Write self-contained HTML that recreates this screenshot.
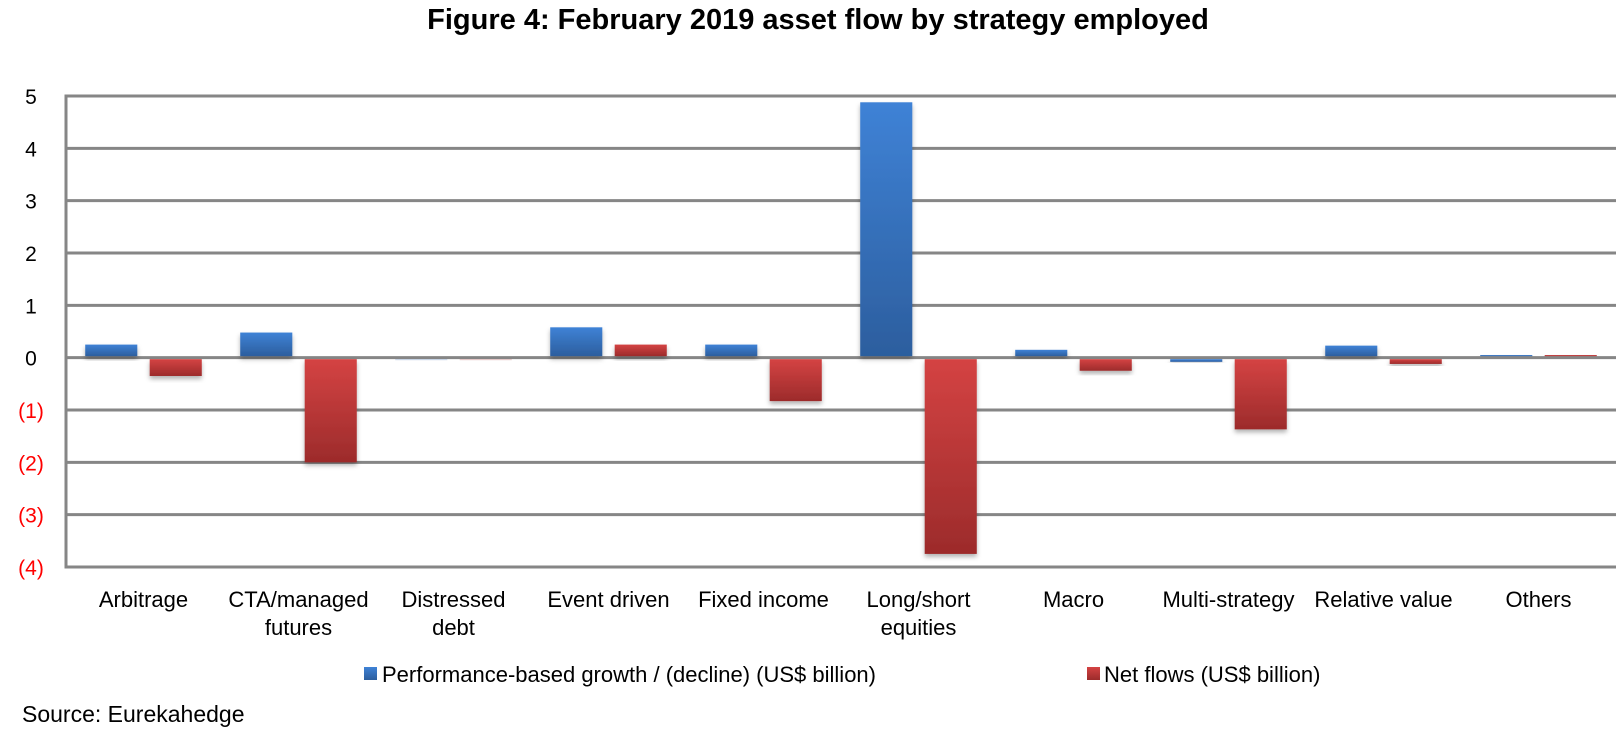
<!DOCTYPE html>
<html><head><meta charset="utf-8"><style>
body{margin:0;background:#fff;width:1618px;height:737px;overflow:hidden;font-family:"Liberation Sans",sans-serif}
</style></head><body>
<svg width="1618" height="737" xmlns="http://www.w3.org/2000/svg">
<defs>
<linearGradient id="gb" x1="0" y1="0" x2="0" y2="1"><stop offset="0" stop-color="#3f82d6"/><stop offset="1" stop-color="#2c5e9e"/></linearGradient>
<linearGradient id="gr" x1="0" y1="0" x2="0" y2="1"><stop offset="0" stop-color="#d44343"/><stop offset="1" stop-color="#9c2b2b"/></linearGradient>
<filter id="sh" x="-20%" y="-20%" width="140%" height="160%"><feDropShadow dx="0" dy="3" stdDeviation="2.5" flood-color="#000" flood-opacity="0.3"/></filter>
</defs>
<text x="818" y="29" text-anchor="middle" font-weight="bold" font-size="29" fill="#000">Figure 4: February 2019 asset flow by strategy employed</text>
<g id="grid"></g><g id="bars"></g><g id="labels"></g>
<g>
<rect x="364" y="667" width="13" height="13" fill="url(#gb)"/>
<text x="382" y="682" font-size="22" fill="#000">Performance-based growth / (decline) (US$ billion)</text>
<rect x="1087" y="667" width="13" height="13" fill="url(#gr)"/>
<text x="1104" y="682" font-size="22" fill="#000">Net flows (US$ billion)</text>
</g>
<text x="22" y="722" font-size="23" fill="#000">Source: Eurekahedge</text>
</svg>
<script>
const categories=[["Arbitrage"],["CTA/managed","futures"],["Distressed","debt"],["Event driven"],["Fixed income"],["Long/short","equities"],["Macro"],["Multi-strategy"],["Relative value"],["Others"]];
const performance=[0.25,0.48,-0.02,0.58,0.25,4.88,0.15,-0.08,0.23,0.05];
const netFlows=[-0.35,-2.0,-0.02,0.25,-0.83,-3.75,-0.25,-1.37,-0.12,0.05];
const yTicks=[5,4,3,2,1,0,-1,-2,-3,-4];
const yTickLabels=["5","4","3","2","1","0","(1)","(2)","(3)","(4)"];
const NS="http://www.w3.org/2000/svg";
const L=66,R=1616,T=96,B=567,ymax=5,ymin=-4;
function y(v){return T+(ymax-v)/(ymax-ymin)*(B-T);}
const cw=(R-L)/categories.length;
function mk(t,a,p){const e=document.createElementNS(NS,t);for(const k in a)e.setAttribute(k,a[k]);p.appendChild(e);return e;}
const g=document.getElementById('grid'),bg=document.getElementById('bars'),lg=document.getElementById('labels');
yTicks.forEach((v,i)=>{
 const l=mk('line',{x1:L,x2:R,y1:y(v),y2:y(v),stroke:'#868686','stroke-width':3},g);
 
 
 const t=mk('text',{x:31,y:y(v)+8,'text-anchor':'middle','font-size':21,fill:v<0?'#ff0000':'#000'},lg);
 t.textContent=yTickLabels[i];
 
 
});
const ax=mk('line',{x1:L,x2:L,y1:T-1.5,y2:B+1.5,stroke:'#868686','stroke-width':3},g);


const bw=cw*0.336,gap=cw*0.08,off=(cw-2*bw-gap)/2;
function bar(v,x,fill,name){
 const y0=y(0),y1=y(v);
 const r=mk('rect',{x:x,y:Math.min(y0,y1)+(v<0?1.5:0),width:bw,height:Math.max(Math.abs(y1-y0)-1.5,1),fill:fill,filter:'url(#sh)'},bg);
 if(Math.abs(v)<0.05) r.setAttribute('opacity','0.25');
 
 
}
categories.forEach((c,i)=>{
 const x0=L+i*cw;
 bar(performance[i],x0+off,'url(#gb)','bar-performance');
 bar(netFlows[i],x0+off+bw+gap,'url(#gr)','bar-net-flows');
 c.forEach((line,j)=>{
  const t=mk('text',{x:x0+cw/2,y:607+j*28,'text-anchor':'middle','font-size':22,fill:'#000'},lg);
  t.textContent=line;
  
  
 });
});
</script>
</body></html>
